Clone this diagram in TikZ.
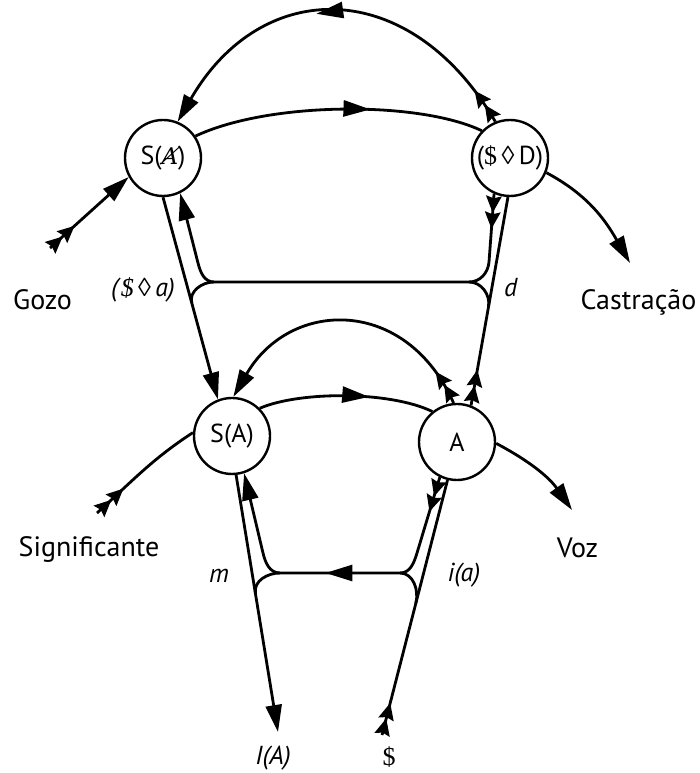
\documentclass[tikz,border=0pt]{standalone}
\usepackage{fontspec}
\setmainfont{PT Sans}
\newfontfamily\serif{Liberation Serif}
\newfontfamily\djserif{DejaVu Serif}
\usetikzlibrary{arrows.meta,decorations.markings,calc}
\newcommand{\dartat}[2]{\fill[shift={(#1)},rotate=#2] (0pt,0pt) -- (-17pt,8pt) -- (-14.5pt,0pt) -- (-17pt,-8pt) -- cycle;}
\tikzset{
  ring/.style={circle,draw,line width=2.4pt,minimum size=76pt,inner sep=0pt},
  conn/.style={line width=2.8pt},
  head/.style={-{Triangle[length=27pt,width=16pt]}},
  midarrow/.style={postaction={decorate,decoration={markings,mark=at position #1 with {\arrow{Triangle[length=27pt,width=16pt]}}}}},
  txt/.style={font=\fontsize{26pt}{30pt}\selectfont,inner sep=0pt},
  btxt/.style={txt,anchor=base},
  otxt/.style={font=\fontsize{28pt}{32pt}\selectfont,inner sep=0pt,anchor=base},
}
\begin{document}
\begin{tikzpicture}[x=1pt,y=1pt]
\useasboundingbox (0,0) rectangle (700,773);
% circles
\node[ring] (SAb) at (163,615) {};
\node[ring] (SD) at (510,615) {};
\node[ring] (SA) at (232,337) {};
\node[ring] (A) at (457,331) {};
\node[txt] (tSAb) at (SAb) {S({\djserif\itshape\fontsize{23pt}{28pt}\selectfont Ⱥ})};
\node[txt] (tSD) at (SD) {({\serif\$\,◊\,}D)};
\node[txt] (tSA) at (SA) {S(A)};
\node[txt] (tA) at (A) {A};
% free end points
\coordinate (gozo0) at (50,525);
\coordinate (cast1) at (630,510);
\coordinate (voz1) at (572,263);
\coordinate (sig0) at (97,260);
\coordinate (IA1) at (278,41);
\coordinate (dol0) at (382,38);
\coordinate (jL) at (214,491);
\coordinate (jR) at (469,491);
\coordinate (jL2) at (280,200);
\coordinate (jR2) at (400,200);
\coordinate (kL) at ($(SAb.270)!0.523!(SA.111)$);
\coordinate (kR) at ($(A.69)!0.4725!(SD.267)$);
\coordinate (kL2) at ($(SA.276)!0.46!(IA1)$);
\coordinate (kR2) at ($(dol0)!0.517!(A.256)$);
% upper level
\draw[conn,head,midarrow=0.55] (SD.112) .. controls (410,797) and (262,797) .. (SAb.68)
   coordinate[pos=0.04] (fT1) coordinate[pos=0.077] (fT2);
\draw[conn,midarrow=0.61] (SAb.34) .. controls (270,672) and (420,672) .. (SD.136);
\draw[conn,head] (gozo0) -- (SAb.209);
\draw[conn,head] (SD.-22) to[out=-28,in=120] (cast1);
\draw[conn,head] (SAb.270) -- (SA.111);
\draw[conn,head] (SD.246) -- (489,511) to[out=265,in=0] (jR) -- (jL) to[out=180,in=-76] (198,510) -- (SAb.296);
\draw[conn] (jL) to[out=180,in=105] (kL);
\draw[conn] (jR) to[out=0,in=80] (kR);
\draw[conn] (A.69) -- (SD.267);
% lower level
\draw[conn,midarrow=0.63] (SA.45) .. controls (300,382) and (390,382) .. (A.129);
\draw[conn,head] (A.95) .. controls (406,477) and (290,474) .. (SA.88)
   coordinate[pos=0.06] (fL1) coordinate[pos=0.11] (fL2);
\draw[conn,head] (A.-2) to[out=-28,in=125] (voz1);
\draw[conn] (sig0) .. controls (133.4,292.8) and (151.9,313.7) .. (SA.175)
   coordinate[pos=0.14] (fS1) coordinate[pos=0.27] (fS2);
\draw[conn,head] (SA.276) -- (IA1);
\draw[conn,head,midarrow=182pt] (A.244) -- (417,220) to[out=253,in=0] (jR2) -- (jL2) to[out=180,in=-77] (263,220) -- (SA.288);
\draw[conn] (jL2) to[out=180,in=99] (kL2);
\draw[conn] (jR2) to[out=0,in=76] (kR2);
\draw[conn] (dol0) -- (A.256);
% feathers
\dartat{fT1}{124}
\dartat{fT2}{127}
\dartat{$(gozo0)!17pt!(SAb.209)$}{42}
\dartat{$(gozo0)!33pt!(SAb.209)$}{42}
\dartat{$(SD.246)!19pt!(489,511)$}{265.7}
\dartat{$(SD.246)!35pt!(489,511)$}{265.7}
\dartat{$(A.69)!20pt!(SD.267)$}{80}
\dartat{$(A.69)!36pt!(SD.267)$}{80}
\dartat{fL1}{121}
\dartat{fL2}{126}
\dartat{fS1}{43}
\dartat{fS2}{43}
\dartat{$(A.244)!20pt!(417,220)$}{253.2}
\dartat{$(A.244)!36pt!(417,220)$}{253.2}
\dartat{$(dol0)!17pt!(A.256)$}{75.6}
\dartat{$(dol0)!33pt!(A.256)$}{75.6}
% labels
\node[otxt] (gozo) at (42.5,463) {Gozo};
\node[otxt] (cast) at (638.5,463) {Castração};
\node[otxt] (sig) at (89,216) {Significante};
\node[otxt] (voz) at (577.5,215) {Voz};
\node[btxt] (lsa) at (143,476) {\textit{(}{\serif\itshape\$\,◊\,}\textit{a)}};
\node[btxt] (ld) at (511,476) {\textit{d}};
\node[btxt] (lm) at (219,190) {\textit{m}};
\node[btxt] (lia) at (464,191) {\textit{i(a)}};
\node[btxt] (lIA) at (273,9) {\textit{I(A)}};
\node[btxt] (ldol) at (389,7) {\serif\$};
\end{tikzpicture}
\end{document}
